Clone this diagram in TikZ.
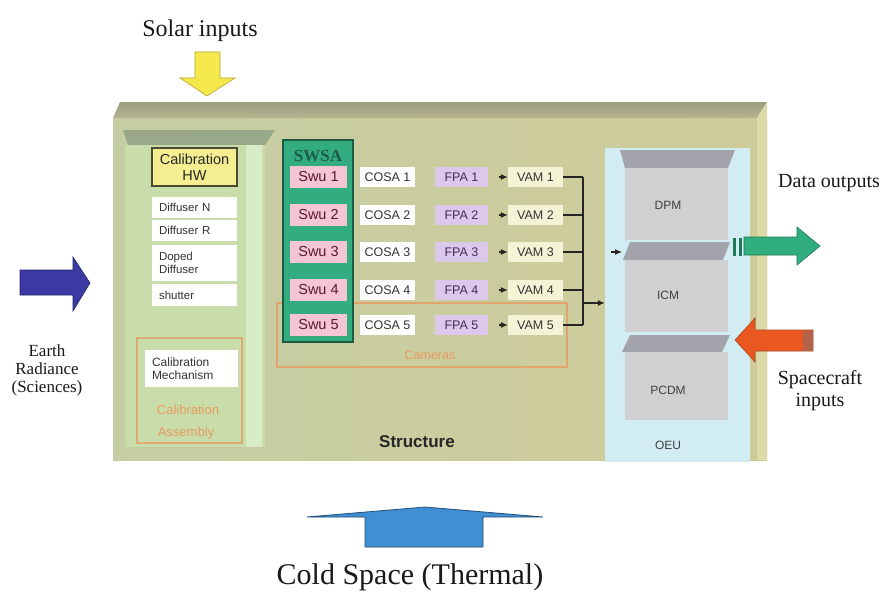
\documentclass[tikz,border=0pt]{standalone}
\usepackage{fontspec}
\setmainfont{Liberation Serif}
\setsansfont{Liberation Sans}
\usetikzlibrary{arrows.meta}
\definecolor{faceL}{HTML}{C4CDA3}
\definecolor{faceR}{HTML}{D0CC9A}
\definecolor{bevelT}{HTML}{9C9C80}
\definecolor{bevelB}{HTML}{B5B38E}
\definecolor{rstrip}{HTML}{DCDAA6}
\definecolor{calpanel}{HTML}{C8DDAA}
\definecolor{calstrip}{HTML}{D8ECC6}
\definecolor{calbevel}{HTML}{98A888}
\definecolor{calhw}{HTML}{F5EE90}
\definecolor{calhwborder}{HTML}{4A4A30}
\definecolor{swsa}{HTML}{33AD80}
\definecolor{swsadark}{HTML}{1D5C44}
\definecolor{swu}{HTML}{F3C5D5}
\definecolor{swutext}{HTML}{5A1A2A}
\definecolor{fpa}{HTML}{DCC8EA}
\definecolor{fpatext}{HTML}{4A2A5A}
\definecolor{vam}{HTML}{F4F3D6}
\definecolor{cam}{HTML}{E89A60}
\definecolor{oeu}{HTML}{D2ECF3}
\definecolor{modbody}{HTML}{D0D0D3}
\definecolor{modtop}{HTML}{A3A3AC}
\definecolor{garrow}{HTML}{30AE7E}
\definecolor{garrowd}{HTML}{1E7A56}
\definecolor{rarrow}{HTML}{EA581F}
\definecolor{rarrowd}{HTML}{A4482A}
\definecolor{barrow}{HTML}{3A3AA2}
\definecolor{barrowd}{HTML}{232370}
\definecolor{yarrow}{HTML}{F5E84C}
\definecolor{yarrowd}{HTML}{B8A52A}
\definecolor{carrow}{HTML}{3F8FD2}
\definecolor{carrowd}{HTML}{264F7A}
\begin{document}
\begin{tikzpicture}[x=1pt,y=-1pt,
  cellbox/.style={rectangle, inner sep=0pt, minimum height=20pt, font=\sffamily\fontsize{12.5}{14}\selectfont, text=black!80},
  calcell/.style={rectangle, fill=white, inner xsep=7pt, inner ysep=0pt, text width=71pt, align=left, font=\sffamily\fontsize{11.5}{13}\selectfont, text=black!80},
  swubox/.style={rectangle, fill=swu, minimum width=57pt, minimum height=22pt, inner sep=0pt, font=\sffamily\fontsize{14.5}{15}\selectfont, text=swutext},
  modlbl/.style={inner sep=0pt, font=\sffamily\fontsize{12}{13}\selectfont, text=black!75},
  seriflbl/.style={inner sep=0pt, align=center, text=black!90},
  link/.style={draw=black!85, line width=1.1pt},
  tipped/.style={-{Latex[length=7pt,width=6pt]}}]
\useasboundingbox (0,0) rectangle (881,594);
\fill[white] (0,0) rectangle (881,594);

% main structure
\shade[left color=faceL, right color=faceR] (113,118) rectangle (767,460);
\shade[top color=bevelT, bottom color=bevelB] (113,118) -- (120,102) -- (767,102) -- (757,118) -- cycle;
\fill[rstrip] (757,118) -- (767,102) -- (767,460) -- (757,460) -- cycle;

% calibration panel
\fill[calbevel] (123,130) -- (275,130) -- (265,145) -- (128,145) -- cycle;
\fill[calpanel] (125,145) rectangle (265,447);
\fill[calstrip] (246,145) rectangle (262,447);
\draw[cam, line width=1.2pt, opacity=0.75] (137,338) rectangle (242,443);
\node[rectangle, fill=calhw, draw=calhwborder, line width=1.2pt, minimum width=85pt, minimum height=38pt, inner sep=0pt, align=center, font=\sffamily\fontsize{14.5}{15.5}\selectfont, text=black!85] (calhw) at (194.5,167) {Calibration\\HW};
\node[calcell, minimum height=21pt] (difn) at (194.5,207.5) {Diffuser N};
\node[calcell, minimum height=21pt] (difr) at (194.5,230.5) {Diffuser R};
\node[calcell, minimum height=36pt] (dopd) at (194.5,262.5) {Doped\\Diffuser};
\node[calcell, minimum height=22pt] (shut) at (194.5,295) {shutter};
\node[calcell, text width=79pt, minimum height=37pt, font=\sffamily\fontsize{12}{13.5}\selectfont] (calmech) at (191.5,368.5) {Calibration\\Mechanism};
\node[inner sep=0pt, text=cam, font=\sffamily\fontsize{13}{14}\selectfont] (calasm1) at (188,410) {Calibration};
\node[inner sep=0pt, text=cam, font=\sffamily\fontsize{13}{14}\selectfont] (calasm2) at (186,433) {Assembly};

% cameras
\draw[cam, line width=1.2pt, opacity=0.8] (277,303) rectangle (567,367);
\node[inner sep=0pt, text=cam, font=\sffamily\fontsize{12.5}{14}\selectfont] (camlbl) at (430,355) {Cameras};

% SWSA
\node[rectangle, fill=swsa, draw=swsadark, line width=1.5pt, minimum width=70pt, minimum height=202pt, inner sep=0pt] (swsa) at (318,241) {};
\node[inner sep=0pt, text=swsadark, font=\bfseries\fontsize{17}{18}\selectfont] (swsalbl) at (318,156) {SWSA};

\foreach \i/\y in {1/177,2/215,3/252,4/290,5/325}{
  \node[swubox] (swu\i) at (318.5,\y) {Swu \i};
  \node[cellbox, fill=white, minimum width=55pt] (cosa\i) at (387.5,\y) {COSA \i};
  \node[cellbox, fill=fpa, minimum width=53pt, text=fpatext] (fpa\i) at (461.5,\y) {FPA \i};
  \node[cellbox, fill=vam, minimum width=55pt] (vam\i) at (535.5,\y) {VAM \i};
  \draw[link, tipped, shorten <=11pt] (fpa\i) -- (vam\i);
}

% bus
\coordinate (bt) at (583,177);
\coordinate (bb) at (583,325);
\coordinate (bj) at (583,303);
\foreach \i in {1,...,5}{\draw[link] (vam\i.east) -- (vam\i.east -| bt);}
\draw[link] (bt) -- (bb);

% OEU
\node[rectangle, fill=oeu, minimum width=145pt, minimum height=314pt, inner sep=0pt] (oeu) at (677.5,305) {};
\draw[link, tipped] (bj) -- (bj -| oeu.west);
\fill[modtop] (620,150) -- (735,150) -- (728,168) -- (625,168) -- cycle;
\fill[modbody] (625,168) rectangle (728,240);
\fill[modtop] (630,242) -- (730,242) -- (723,260) -- (623,260) -- cycle;
\fill[modbody] (625,260) rectangle (728,332);
\fill[modtop] (630,335) -- (730,335) -- (722,352) -- (622,352) -- cycle;
\fill[modbody] (625,352) rectangle (728,420);
\node[modlbl] (dpm) at (668,205) {DPM};
\node[modlbl] (icm) at (668,295) {ICM};
\node[modlbl] (pcdm) at (668,390) {PCDM};
\node[modlbl] (oeulbl) at (668,445) {OEU};
\coordinate (ia) at (611,252);
\coordinate (ib) at (622,252);
\draw[link, tipped] (ia) -- (ib);

\node[inner sep=0pt, font=\sffamily\bfseries\fontsize{17}{18}\selectfont, text=black!85] (struct) at (417,442) {Structure};

% big arrows
\filldraw[fill=yarrow, draw=yarrowd, line width=0.6pt] (195,52) -- (220,52) -- (220,78) -- (235,78) -- (207,96) -- (180,78) -- (195,78) -- cycle;
\filldraw[fill=barrow, draw=barrowd, line width=0.6pt] (20,270) -- (73,270) -- (73,257) -- (90,283) -- (73,311) -- (73,295) -- (20,295) -- cycle;
\fill[garrowd] (733,238) rectangle (736,256);
\fill[garrowd] (739,238) rectangle (742,256);
\filldraw[fill=garrow, draw=garrowd, line width=0.6pt] (744,237) -- (797,237) -- (797,227) -- (820,246) -- (797,265) -- (797,255) -- (744,255) -- cycle;
\filldraw[fill=rarrow, draw=rarrowd, line width=0.6pt] (735,340) -- (755,318) -- (755,330) -- (813,330) -- (813,351) -- (755,351) -- (755,362) -- cycle;
\fill[rarrowd!85] (803,330.5) rectangle (812.5,350.5);
\filldraw[fill=carrow, draw=carrowd, line width=0.8pt] (365,547) -- (365,517) -- (307,517) -- (425,507) -- (543,517) -- (483,517) -- (483,547) -- cycle;

% serif labels
\node[seriflbl, font=\fontsize{24}{26}\selectfont] (solar) at (200,31) {Solar inputs};
\node[seriflbl, font=\fontsize{17}{18}\selectfont] (earth) at (47,370) {Earth\\Radiance\\(Sciences)};
\node[seriflbl, font=\fontsize{20}{22}\selectfont] (dataout) at (829,183) {Data outputs};
\node[seriflbl, font=\fontsize{20}{22}\selectfont] (scin) at (820,391) {Spacecraft\\inputs};
\node[seriflbl, font=\fontsize{30}{32}\selectfont] (cold) at (410,577) {Cold Space (Thermal)};
\end{tikzpicture}
\end{document}
